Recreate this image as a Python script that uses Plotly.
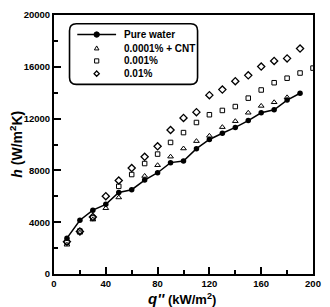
import plotly.graph_objects as go

# ---- data ----
q_flux = [10, 20, 30, 40, 50, 60, 70, 80, 90, 100, 110, 120, 130, 140, 150, 160, 170, 180, 190, 200]
h_pure = [2770, 4150, 4930, 5380, 6290, 6510, 7250, 7820, 8600, 8730, 9680, 10390, 10870, 11320, 11850, 12450, 12680, 13430, 13960, None]
h_cnt = [2260, 3190, 4200, 5080, 5910, None, 7570, 8400, 9060, 9690, 10260, 10670, 11340, 11800, 12450, 12980, 13260, 13640, None, None]
h_001 = [2450, 3320, 4330, None, 6770, 7680, 8530, 9260, 10160, 10920, 11700, 12300, 12630, 12930, 13580, 14210, 14770, 15120, 15520, 15900]
h_01 = [2500, 3280, 4400, 6010, 7220, 8180, 9050, 9860, 11120, 12050, 12500, 13810, 14240, 14890, 15340, 16020, 16450, 16650, 17410, None]
series_names = ["Pure water", "0.0001% + CNT", "0.001%", "0.01%"]
x_ticks = [0, 40, 80, 120, 160, 200]
y_ticks = [0, 4000, 8000, 12000, 16000, 20000]

FONT = "Liberation Sans, Arial, sans-serif"
BLACK = "#000000"

fig = go.Figure()
fig.add_trace(go.Scatter(x=q_flux, y=h_pure, mode="lines+markers", name=series_names[0],
                         line=dict(color=BLACK, width=1.5),
                         marker=dict(symbol="circle", size=5.5, color=BLACK), showlegend=False))
fig.add_trace(go.Scatter(x=q_flux, y=h_cnt, mode="markers", name=series_names[1],
                         marker=dict(symbol="triangle-up-open", size=5, color=BLACK, line=dict(width=1)),
                         showlegend=False))
fig.add_trace(go.Scatter(x=q_flux, y=h_001, mode="markers", name=series_names[2],
                         marker=dict(symbol="square-open", size=4.5, color=BLACK, line=dict(width=1)),
                         showlegend=False))
fig.add_trace(go.Scatter(x=q_flux, y=h_01, mode="markers", name=series_names[3],
                         marker=dict(symbol="diamond-open", size=5.5, color=BLACK, line=dict(width=1.3)),
                         showlegend=False))

# plot area in pixels
L, R, T, B = 54, 321, 9, 274
W, H = 330, 307


def px(x):
    return (x - L) / (R - L)


def py(y):
    return (B - y) / (B - T)


# ---- hand-made legend (rounded box) ----
bx0, bx1, by0, by1, rad = 70, 202, 18, 80, 7
rx, ry = rad / (R - L), rad / (B - T)
X0, X1, Y0, Y1 = px(bx0), px(bx1), py(by1), py(by0)
path = (f"M {X0+rx},{Y1} L {X1-rx},{Y1} Q {X1},{Y1} {X1},{Y1-ry} "
        f"L {X1},{Y0+ry} Q {X1},{Y0} {X1-rx},{Y0} L {X0+rx},{Y0} "
        f"Q {X0},{Y0} {X0},{Y0+ry} L {X0},{Y1-ry} Q {X0},{Y1} {X0+rx},{Y1} Z")
shapes = [dict(type="path", xref="paper", yref="paper", path=path,
               line=dict(color=BLACK, width=1.6), fillcolor="white", layer="above")]

rows_y = [29, 43, 56, 69]
sym_x = 98
shapes.append(dict(type="line", xref="paper", yref="paper", x0=px(78), x1=px(118),
                   y0=py(rows_y[0]), y1=py(rows_y[0]), line=dict(color=BLACK, width=1.5), layer="above"))
shapes.append(dict(type="circle", xref="paper", yref="paper", xsizemode="pixel", ysizemode="pixel",
                   xanchor=px(sym_x), yanchor=py(rows_y[0]), x0=-2.7, x1=2.7, y0=-2.7, y1=2.7,
                   fillcolor=BLACK, line=dict(color=BLACK, width=1), layer="above"))
shapes.append(dict(type="path", xref="paper", yref="paper", xsizemode="pixel", ysizemode="pixel",
                   xanchor=px(sym_x), yanchor=py(rows_y[1]),
                   path="M -2.3,-1.7 L 2.3,-1.7 L 0,2.3 Z", line=dict(color=BLACK, width=1), layer="above"))
shapes.append(dict(type="rect", xref="paper", yref="paper", xsizemode="pixel", ysizemode="pixel",
                   xanchor=px(sym_x), yanchor=py(rows_y[2]), x0=-2.1, x1=2.1, y0=-2.1, y1=2.1,
                   line=dict(color=BLACK, width=1), layer="above"))
shapes.append(dict(type="path", xref="paper", yref="paper", xsizemode="pixel", ysizemode="pixel",
                   xanchor=px(sym_x), yanchor=py(rows_y[3]),
                   path="M 0,-2.6 L 2.6,0 L 0,2.6 L -2.6,0 Z", line=dict(color=BLACK, width=1.3), layer="above"))

annotations = []
for name, ry_ in zip(series_names, rows_y):
    annotations.append(dict(text=name, xref="paper", yref="paper", x=px(124), y=py(ry_),
                            xanchor="left", yanchor="middle", showarrow=False,
                            font=dict(family=FONT, size=10, color=BLACK, weight="bold")))

# axis titles
annotations.append(dict(text="<i>h</i> (W/m<sup>2</sup>K)", xref="paper", yref="paper",
                        x=px(14), y=0.5, textangle=-90, showarrow=False,
                        xanchor="center", yanchor="middle",
                        font=dict(family=FONT, size=14, color=BLACK, weight="bold")))
annotations.append(dict(text="<i><span style='font-size:15px'>q''</span></i> (kW/m<sup>2</sup>)",
                        xref="paper", yref="paper",
                        x=px(186), y=py(310), showarrow=False, xanchor="center", yanchor="bottom",
                        font=dict(family=FONT, size=13, color=BLACK, weight="bold")))

axis_common = dict(showgrid=False, zeroline=False, showline=True, linecolor=BLACK, linewidth=2,
                   mirror=True, ticks="inside", ticklen=7, tickwidth=2, tickcolor=BLACK,
                   tickfont=dict(family=FONT, size=9.5, color=BLACK, weight="bold"))

fig.update_layout(
    width=W, height=H, margin=dict(l=L, r=W - R, t=T, b=H - B),
    paper_bgcolor="white", plot_bgcolor="white",
    showlegend=False,
    xaxis=dict(range=[0, 200], tickvals=x_ticks, ticktext=[str(v) for v in x_ticks],
               minor=dict(dtick=20, ticks="inside", ticklen=4, tickwidth=2, tickcolor=BLACK),
               **axis_common),
    yaxis=dict(range=[0, 20000], tickvals=y_ticks, ticktext=[str(v) for v in y_ticks],
               minor=dict(dtick=2000, ticks="inside", ticklen=4, tickwidth=2, tickcolor=BLACK),
               **axis_common),
    shapes=shapes, annotations=annotations,
)

fig.write_html("out.html")
